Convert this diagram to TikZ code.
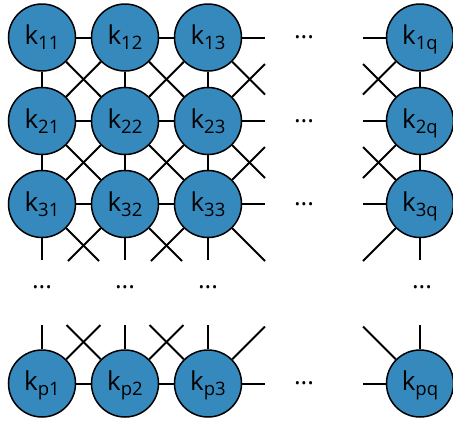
\documentclass[tikz,border=0pt]{standalone}
\usepackage{fontspec}
\setmainfont{Open Sans}
\definecolor{nodeblue}{RGB}{54,137,189}
\newcommand\klab[1]{k\raisebox{-5pt}{\fontsize{18.5}{18.5}\selectfont #1}}
\begin{document}
\begin{tikzpicture}[x=1pt,y=-1pt,
  kn/.style={circle,draw=black,line width=1.5pt,fill=nodeblue,minimum size=67pt,inner sep=0pt,
    font=\fontsize{26}{26}\selectfont,text height=19pt,text depth=5pt},
  link/.style={line width=2pt},
  dotsnode/.style={inner sep=0pt,font=\fontsize{25}{25}\selectfont}]
\useasboundingbox (0,0) rectangle (453,421);
% nodes
\foreach \r/\y in {1/37.5,2/121,3/204,p/383.5}
  \foreach \c/\x in {1/42,2/125,3/208,q/420}
    \node[kn] (k\r\c) at (\x,\y) {\klab{\r\c}};
% grid links
\foreach \r in {1,2,3,p}{
  \draw[link] (k\r1) -- (k\r2);
  \draw[link] (k\r2) -- (k\r3);
}
\foreach \c in {1,2,3,q}{
  \draw[link] (k1\c) -- (k2\c);
  \draw[link] (k2\c) -- (k3\c);
}
\foreach \r/\s in {1/2,2/3}
  \foreach \c/\d in {1/2,2/3}{
    \draw[link] (k\r\c) -- (k\s\d);
    \draw[link] (k\r\d) -- (k\s\c);
  }
% stub end coordinates: right of column 3
\coordinate (a1h) at (265,37.5);
\coordinate (a1dr) at (265,94.5);
\coordinate (a2ur) at (265,64);
\coordinate (a2h) at (265,121);
\coordinate (a2dr) at (265,178);
\coordinate (a3ur) at (265,147);
\coordinate (a3h) at (265,204);
\coordinate (a3dr) at (265,261);
\coordinate (apur) at (265,326.5);
\coordinate (aph) at (265,383.5);
% left of column q
\coordinate (b1h) at (363,37.5);
\coordinate (b1dl) at (363,94.5);
\coordinate (b2ul) at (363,64);
\coordinate (b2h) at (363,121);
\coordinate (b2dl) at (363,178);
\coordinate (b3ul) at (363,147);
\coordinate (b3h) at (363,204);
\coordinate (b3dl) at (363,261);
\coordinate (bpul) at (363,326.5);
\coordinate (bph) at (363,383.5);
% below row 3
\coordinate (c1v) at (42,260);
\coordinate (c1dr) at (99,261);
\coordinate (c2dl) at (68,261);
\coordinate (c2v) at (125,260);
\coordinate (c2dr) at (182,261);
\coordinate (c3dl) at (151,261);
\coordinate (c3v) at (208,260);
\coordinate (cqv) at (420,260);
% above row p
\coordinate (d1v) at (42,325);
\coordinate (d1ur) at (100.5,325);
\coordinate (d2ul) at (66.5,325);
\coordinate (d2v) at (125,325);
\coordinate (d2ur) at (183.5,325);
\coordinate (d3ul) at (149.5,325);
\coordinate (d3v) at (208,325);
\coordinate (dqv) at (420,325);
% stubs
\draw[link] (k13) -- (a1h);
\draw[link] (k13) -- (a1dr);
\draw[link] (k23) -- (a2ur);
\draw[link] (k23) -- (a2h);
\draw[link] (k23) -- (a2dr);
\draw[link] (k33) -- (a3ur);
\draw[link] (k33) -- (a3h);
\draw[link] (k33) -- (a3dr);
\draw[link] (kp3) -- (apur);
\draw[link] (kp3) -- (aph);
\draw[link] (k1q) -- (b1h);
\draw[link] (k1q) -- (b1dl);
\draw[link] (k2q) -- (b2ul);
\draw[link] (k2q) -- (b2h);
\draw[link] (k2q) -- (b2dl);
\draw[link] (k3q) -- (b3ul);
\draw[link] (k3q) -- (b3h);
\draw[link] (k3q) -- (b3dl);
\draw[link] (kpq) -- (bpul);
\draw[link] (kpq) -- (bph);
\draw[link] (k31) -- (c1v);
\draw[link] (k31) -- (c1dr);
\draw[link] (k32) -- (c2dl);
\draw[link] (k32) -- (c2v);
\draw[link] (k32) -- (c2dr);
\draw[link] (k33) -- (c3dl);
\draw[link] (k33) -- (c3v);
\draw[link] (k3q) -- (cqv);
\draw[link] (kp1) -- (d1v);
\draw[link] (kp1) -- (d1ur);
\draw[link] (kp2) -- (d2ul);
\draw[link] (kp2) -- (d2v);
\draw[link] (kp2) -- (d2ur);
\draw[link] (kp3) -- (d3ul);
\draw[link] (kp3) -- (d3v);
\draw[link] (kpq) -- (dqv);
% dots
\foreach \y [count=\i] in {37.5,121,204,383.5}
  \node[dotsnode] (h\i) at (304,\y) {...};
\foreach \x [count=\i] in {42,125,208,422}
  \node[dotsnode] (v\i) at (\x,287) {...};
\end{tikzpicture}
\end{document}
